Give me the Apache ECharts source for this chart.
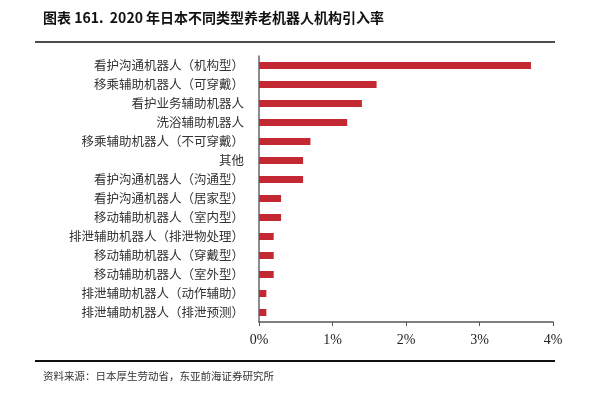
<!DOCTYPE html>
<html>
<head>
<meta charset="utf-8">
<script src="https://cdn.jsdelivr.net/npm/echarts@6/dist/echarts.min.js"></script>
<style>
  html, body { margin: 0; padding: 0; background: #fff; }
  #chart { width: 610px; height: 399px; }
</style>
</head>
<body>
<div id="chart"></div>
<script>
// categories listed top to bottom as in the picture
const categories = [
  "看护沟通机器人（机构型）",
  "移乘辅助机器人（可穿戴）",
  "看护业务辅助机器人",
  "洗浴辅助机器人",
  "移乘辅助机器人（不可穿戴）",
  "其他",
  "看护沟通机器人（沟通型）",
  "看护沟通机器人（居家型）",
  "移动辅助机器人（室内型）",
  "排泄辅助机器人（排泄物处理）",
  "移动辅助机器人（穿戴型）",
  "移动辅助机器人（室外型）",
  "排泄辅助机器人（动作辅助）",
  "排泄辅助机器人（排泄预测）"
];
const rates = [3.7, 1.6, 1.4, 1.2, 0.7, 0.6, 0.6, 0.3, 0.3, 0.2, 0.2, 0.2, 0.1, 0.1];
const xTicks = [0, 1, 2, 3, 4];

const titleText = "图表 161.  2020 年日本不同类型养老机器人机构引入率";
const sourceText = "资料来源：日本厚生劳动省，东亚前海证券研究所";

var myChart = echarts.init(document.getElementById("chart"));
let option = {
  animation: false,
  backgroundColor: "#fff",
  grid: { left: 259, right: 57, top: 56, bottom: 77 },
  xAxis: {
    type: "value",
    min: xTicks[0],
    max: xTicks[xTicks.length - 1],
    interval: 1,
    axisLine: { show: true, lineStyle: { color: "#555", width: 1.5 } },
    axisTick: { show: true, length: 4, lineStyle: { color: "#555" } },
    splitLine: { show: false },
    axisLabel: {
      formatter: "{value}%",
      color: "#222",
      fontFamily: "Liberation Serif",
      fontSize: 14,
      margin: 11
    }
  },
  yAxis: {
    type: "category",
    inverse: true,
    data: categories,
    axisLine: { show: true, lineStyle: { color: "#666", width: 1.5 } },
    axisTick: { show: false },
    axisLabel: {
      color: "#333",
      fontFamily: "Noto Sans CJK SC",
      fontSize: 12.5,
      margin: 15
    }
  },
  series: [
    {
      type: "bar",
      data: rates,
      barWidth: 7,
      itemStyle: { color: "#C42832" }
    }
  ],
  graphic: [
    {
      type: "text",
      left: 43,
      top: 11,
      style: {
        text: titleText,
        fontFamily: "Noto Sans CJK SC",
        fontWeight: "bold",
        fontSize: 14,
        fill: "#111"
      }
    },
    {
      type: "line",
      shape: { x1: 35, y1: 42, x2: 555, y2: 42 },
      style: { stroke: "#111", lineWidth: 1.5 }
    },
    {
      type: "line",
      shape: { x1: 35, y1: 361, x2: 555, y2: 361 },
      style: { stroke: "#111", lineWidth: 2 }
    },
    {
      type: "text",
      left: 43,
      top: 371,
      style: {
        text: sourceText,
        fontFamily: "Noto Sans CJK SC",
        fontSize: 10.5,
        fill: "#333"
      }
    }
  ]
};
myChart.setOption(option);
</script>
</body>
</html>
